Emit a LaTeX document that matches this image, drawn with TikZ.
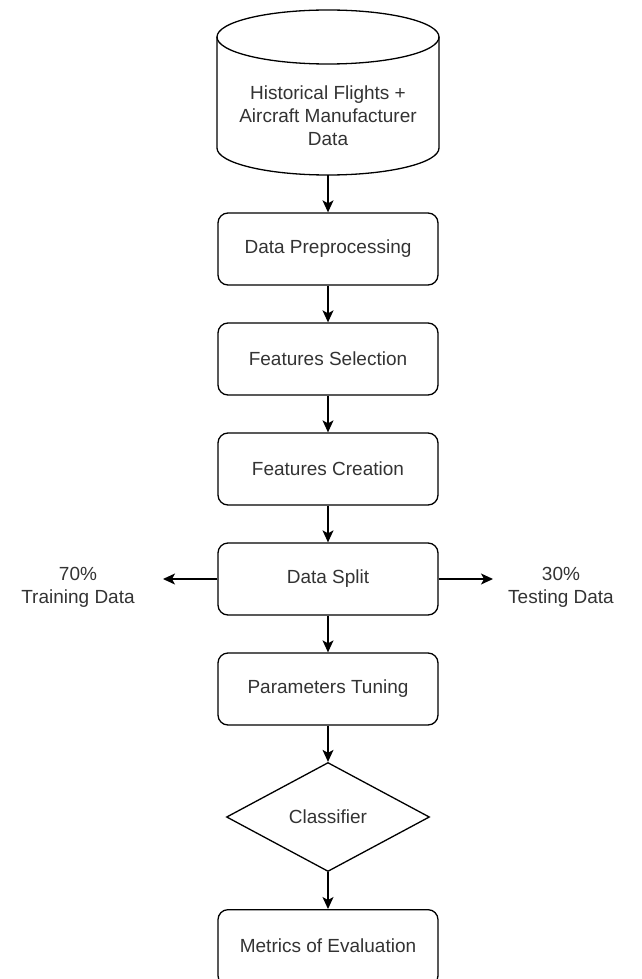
\documentclass[tikz,border=0pt]{standalone}
\usepackage{fontspec}
\setmainfont{Liberation Sans}
\usetikzlibrary{arrows.meta,shapes.geometric}
\definecolor{txt}{HTML}{333333}
\tikzset{
  stepbox/.style={draw=black, line width=1.3pt, rounded corners=10pt, minimum width=220pt, minimum height=72pt, inner sep=0pt, font=\fontsize{19}{23}\selectfont, text=txt, align=center},
  lbl/.style={font=\fontsize{19}{23}\selectfont, text=txt, align=center, inner sep=0pt},
  conn/.style={draw=black, line width=1.3pt, -{Stealth[length=12pt,width=11pt,inset=3pt]}},
}
\begin{document}
\begin{tikzpicture}[x=1pt,y=-1pt]
\useasboundingbox (0,0) rectangle (641,979);
% cylinder
\node[lbl, minimum width=222pt, minimum height=165pt] (db) at (328,92.5) {};
\draw[line width=1.3pt, fill=white] (217,37) -- (217,148) arc[start angle=180, end angle=360, x radius=111pt, y radius=27pt] -- (439,37);
\draw[line width=1.3pt] (328,37) ellipse[x radius=111pt, y radius=27pt];
\node[lbl] (dbtext) at (328,116) {Historical Flights +\\Aircraft Manufacturer\\Data};
\node[stepbox] (pre) at (328,249) {Data Preprocessing};
\node[stepbox] (sel) at (328,359) {Features Selection};
\node[stepbox] (cre) at (328,469) {Features Creation};
\node[stepbox] (split) at (328,579) {Data Split};
\node[stepbox] (tune) at (328,689) {Parameters Tuning};
\node[diamond, draw=black, line width=1.3pt, minimum width=203pt, minimum height=109pt, inner sep=0pt, font=\fontsize{19}{23}\selectfont, text=txt] (cls) at (328,817) {Classifier};
\node[stepbox, minimum height=76pt, anchor=north] (met) at (328,909) {};
\node[lbl] (mettext) at (328,946) {Metrics of Evaluation};
\node[lbl] (train) at (78,587) {70\%\\Training Data};
\node[lbl] (test) at (561,587) {30\%\\Testing Data};
\coordinate (tl) at (163,579);
\coordinate (tr) at (493,579);
\draw[conn] (db.south) -- (pre.north);
\draw[conn] (pre) -- (sel);
\draw[conn] (sel) -- (cre);
\draw[conn] (cre) -- (split);
\draw[conn] (split) -- (tune);
\draw[conn] (tune) -- (cls);
\draw[conn] (cls.south) -- (met.north);
\draw[conn] (split.west) -- (tl);
\draw[conn] (split.east) -- (tr);
\end{tikzpicture}
\end{document}
